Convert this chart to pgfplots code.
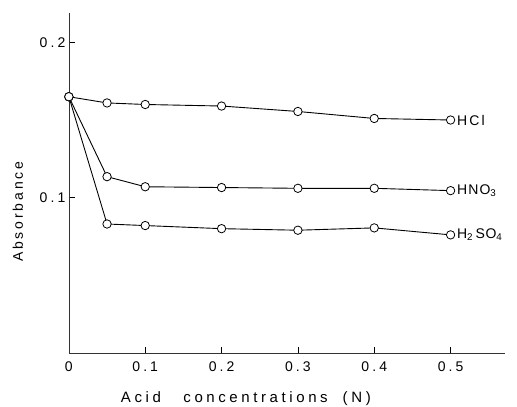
\documentclass[border=0pt]{standalone}
\usepackage{fontspec}
\setmainfont{Liberation Sans}
\usepackage{pgfplots}
\pgfplotsset{compat=1.18}

\begin{document}
\begin{tikzpicture}
\begin{axis}[
    scale only axis,
    width=436pt,
    height=340pt,
    xmin=0, xmax=0.571,
    ymin=0, ymax=0.219,
    axis lines=left,
    axis line style={-, black!80, line width=0.6pt},
    xtick={0,0.1,0.2,0.3,0.4,0.5},
    xticklabels={0,0.1,0.2,0.3,0.4,0.5},
    ytick={0.1,0.2},
    yticklabels={0.1,0.2},
    tick align=inside,
    major tick length=6pt,
    tick style={black, line width=0.6pt},
    ticklabel style={font=\fontsize{14}{16}\selectfont\addfontfeatures{LetterSpace=22}},
    xticklabel style={yshift=-5pt},
    /pgf/number format/assume math mode=true,
    xlabel={Acid\hspace{1.5em}concentrations\hspace{1em}(N)},
    ylabel={Absorbance},
    every axis x label/.style={at={(rel axis cs:0.406,-0.135)}, anchor=center,
        font=\fontsize{15}{17}\selectfont\addfontfeatures{LetterSpace=24}},
    every axis y label/.style={at={(rel axis cs:-0.117,0.415)}, anchor=center, rotate=90,
        font=\fontsize{14}{16}\selectfont\addfontfeatures{LetterSpace=20}},
    clip=false,
]
\addplot[black, line width=0.9pt, mark=*, mark size=4.2pt,
    mark options={fill=white, draw=black, line width=0.8pt}]
    coordinates {(0,0.165)(0.05,0.161)(0.1,0.160)(0.2,0.159)(0.3,0.1555)(0.4,0.151)(0.5,0.150)};
\addplot[black, line width=0.9pt, mark=*, mark size=4.2pt,
    mark options={fill=white, draw=black, line width=0.8pt}]
    coordinates {(0,0.165)(0.05,0.1135)(0.1,0.107)(0.2,0.1065)(0.3,0.106)(0.4,0.106)(0.5,0.1045)};
\addplot[black, line width=0.9pt, mark=*, mark size=4.2pt,
    mark options={fill=white, draw=black, line width=0.8pt}]
    coordinates {(0,0.165)(0.05,0.083)(0.1,0.082)(0.2,0.080)(0.3,0.079)(0.4,0.0805)(0.5,0.076)};
\node[anchor=west, xshift=3pt, font=\fontsize{14}{16}\selectfont\addfontfeatures{LetterSpace=15}] at (axis cs:0.5,0.150) {HCl};
\node[anchor=west, xshift=3pt, font=\fontsize{14}{16}\selectfont\addfontfeatures{LetterSpace=8}] at (axis cs:0.5,0.1045) {HNO\textsubscript{3}};
\node[anchor=west, xshift=3pt, font=\fontsize{14}{16}\selectfont\addfontfeatures{LetterSpace=5}] at (axis cs:0.5,0.076) {H\textsubscript{2}\,SO\textsubscript{4}};
\coordinate (bbll) at (rel axis cs:-0.158,-0.159);
\coordinate (bbur) at (rel axis cs:1.028,1.038);
\end{axis}
\pgfresetboundingbox
\path (bbll) rectangle (bbur);
\end{tikzpicture}
\end{document}
